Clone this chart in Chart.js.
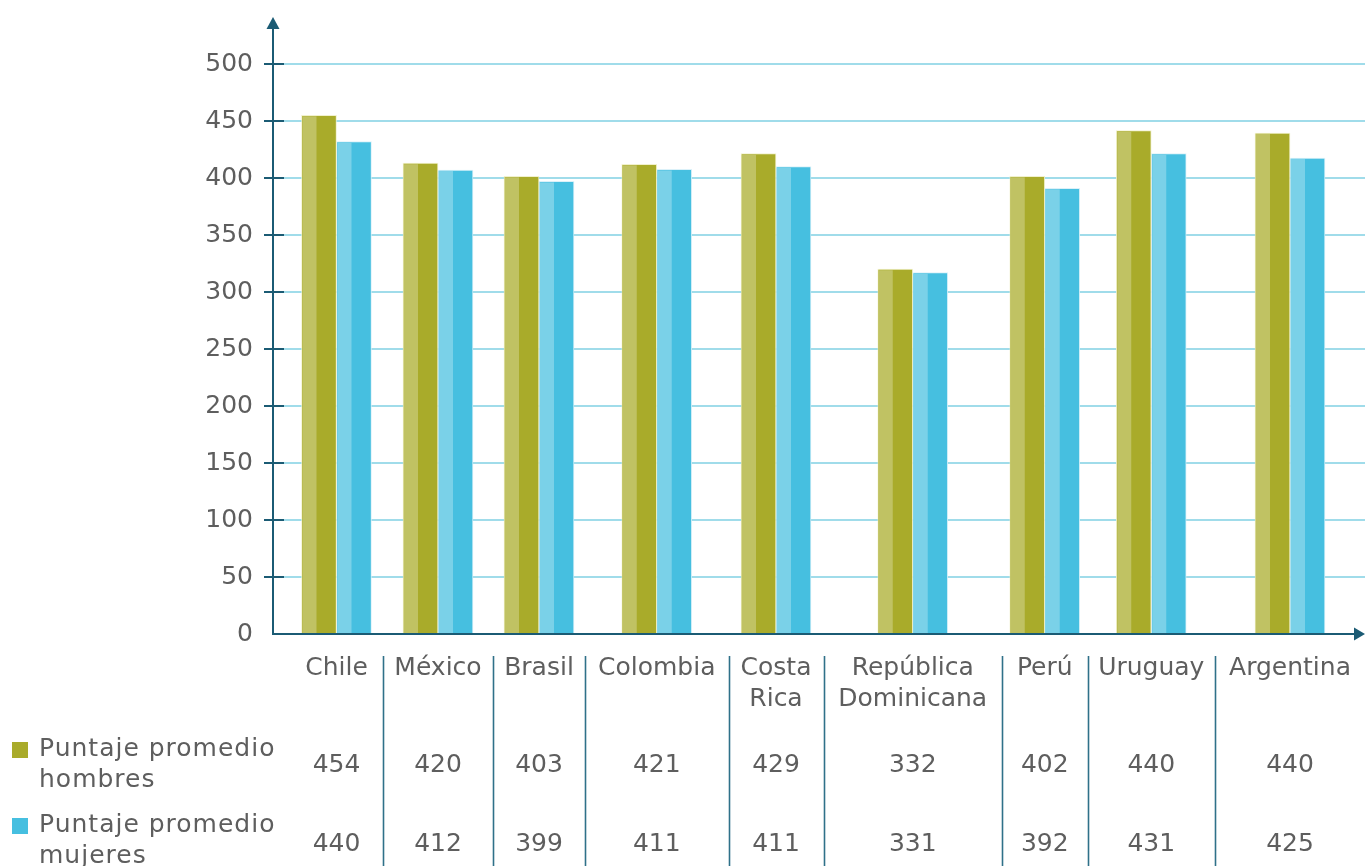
<!DOCTYPE html>
<html>
<head>
<meta charset="utf-8">
<script src="https://cdn.jsdelivr.net/npm/chart.js@4.4.1/dist/chart.umd.min.js"></script>
<style>
    body { margin: 0; background: #ffffff; }
    #wrap { width: 1365px; height: 866px; position: relative; }
</style>
</head>
<body>
<div id="wrap"><canvas id="puntajesChart"></canvas></div>
<script>
// Data
const paises = [['Chile'], ['México'], ['Brasil'], ['Colombia'], ['Costa', 'Rica'],
    ['República', 'Dominicana'], ['Perú'], ['Uruguay'], ['Argentina']];
const hombresBarras = [455, 413, 401.5, 412, 421.5, 320, 401.5, 441.5, 439.5];
const mujeresBarras = [432, 407, 397, 407.5, 410, 317, 391, 421.5, 417.5];
const hombresTabla = [454, 420, 403, 421, 429, 332, 402, 440, 440];
const mujeresTabla = [440, 412, 399, 411, 411, 331, 392, 431, 425];
const serieNombres = [['Puntaje promedio', 'hombres'], ['Puntaje promedio', 'mujeres']];
const yTicks = [0, 50, 100, 150, 200, 250, 300, 350, 400, 450, 500];

// Layout: table column edges in x-axis units (axis starts at 0)
const columnEdges = [17, 110, 220, 312, 455.5, 550.5, 729, 814.5, 942, 1092];
const columnCenters = paises.map((p, i) => (columnEdges[i] + columnEdges[i + 1]) / 2);

// Colours
const AXIS = '#1b5b74';
const SEP = '#2f7189';
const GRID = '#a0dcea';
const TEXT = '#5e5e5e';
const colors = {
    hombres: { dark: '#a9ab2a', light: '#c0c263' },
    mujeres: { dark: '#46bfe0', light: '#7ad1e8' }
};
const FONT = '25px "DejaVu Sans"';

Chart.defaults.font.family = '"DejaVu Sans"';
Chart.defaults.color = TEXT;

// Left lighter strip of each bar
const twoTonePlugin = {
    id: 'twoTone',
    afterDatasetsDraw(chart) {
        const ctx = chart.ctx;
        chart.data.datasets.forEach((ds, di) => {
            const meta = chart.getDatasetMeta(di);
            ctx.save();
            ctx.fillStyle = ds.lightColor;
            meta.data.forEach(bar => {
                const left = bar.x - bar.width / 2 + 1;
                ctx.fillRect(left, bar.y + 1, bar.width * 0.4, bar.base - bar.y - 1);
            });
            ctx.restore();
        });
    }
};

// Axes with arrows, tick marks and the data table underneath
const tablePlugin = {
    id: 'tabla',
    afterDraw(chart) {
        const ctx = chart.ctx;
        const x = chart.scales.x;
        const y = chart.scales.y;
        const left = chart.chartArea.left;
        const right = chart.chartArea.right;
        const y0 = y.getPixelForValue(0);

        ctx.save();
        ctx.strokeStyle = AXIS;
        ctx.fillStyle = AXIS;
        ctx.lineWidth = 2;

        // tick marks
        yTicks.forEach(t => {
            if (t === 0) return;
            const py = Math.round(y.getPixelForValue(t));
            ctx.beginPath();
            ctx.moveTo(left - 9, py);
            ctx.lineTo(left + 11, py);
            ctx.stroke();
        });

        // y axis + arrow
        ctx.beginPath();
        ctx.moveTo(left, y0 + 1);
        ctx.lineTo(left, 28);
        ctx.stroke();
        ctx.beginPath();
        ctx.moveTo(left, 17);
        ctx.lineTo(left - 6.5, 29);
        ctx.lineTo(left + 6.5, 29);
        ctx.closePath();
        ctx.fill();

        // x axis + arrow
        ctx.beginPath();
        ctx.moveTo(left, y0);
        ctx.lineTo(right - 8, y0);
        ctx.stroke();
        ctx.beginPath();
        ctx.moveTo(right, y0);
        ctx.lineTo(right - 11, y0 - 6.5);
        ctx.lineTo(right - 11, y0 + 6.5);
        ctx.closePath();
        ctx.fill();

        // column separators
        ctx.strokeStyle = SEP;
        ctx.lineWidth = 1.6;
        columnEdges.slice(1, -1).forEach(e => {
            const px = Math.round(x.getPixelForValue(e)) + 0.5;
            ctx.beginPath();
            ctx.moveTo(px, y0 + 22);
            ctx.lineTo(px, chart.height);
            ctx.stroke();
        });

        // country names
        ctx.font = FONT;
        ctx.fillStyle = TEXT;
        ctx.textAlign = 'center';
        ctx.textBaseline = 'alphabetic';
        paises.forEach((lines, i) => {
            const px = x.getPixelForValue(columnCenters[i]);
            lines.forEach((l, li) => ctx.fillText(l, px, y0 + 41 + li * 31));
        });

        // values
        const rows = [hombresTabla, mujeresTabla];
        const rowBase = [y0 + 138, y0 + 217];
        rows.forEach((vals, r) => {
            vals.forEach((v, i) => {
                ctx.fillText(String(v), x.getPixelForValue(columnCenters[i]), rowBase[r]);
            });
        });

        // legend cells
        const swatch = [colors.hombres.dark, colors.mujeres.dark];
        const legendBase = [y0 + 122, y0 + 198];
        ctx.textAlign = 'left';
        ctx.letterSpacing = '1px';
        serieNombres.forEach((lines, r) => {
            ctx.fillStyle = swatch[r];
            ctx.fillRect(12, legendBase[r] - 14, 16, 16);
            ctx.fillStyle = TEXT;
            lines.forEach((l, li) => ctx.fillText(l, 39, legendBase[r] + li * 31));
        });
        ctx.restore();
    }
};

const canvas = document.getElementById('puntajesChart');

new Chart(canvas, {
    type: 'bar',
    data: {
        datasets: [{
            label: 'Puntaje promedio hombres',
            data: hombresBarras.map((v, i) => ({ x: columnCenters[i], y: v })),
            backgroundColor: colors.hombres.dark,
            lightColor: colors.hombres.light,
            borderColor: 'rgba(240, 240, 200, 0.9)',
            borderWidth: 1,
            barThickness: 35
        }, {
            label: 'Puntaje promedio mujeres',
            data: mujeresBarras.map((v, i) => ({ x: columnCenters[i], y: v })),
            backgroundColor: colors.mujeres.dark,
            lightColor: colors.mujeres.light,
            borderColor: 'rgba(215, 240, 248, 0.9)',
            borderWidth: 1,
            barThickness: 35
        }]
    },
    options: {
        responsive: true,
        maintainAspectRatio: false,
        animation: false,
        layout: {
            padding: { top: 64, bottom: 232, left: 0, right: 0 }
        },
        plugins: {
            legend: { display: false },
            tooltip: { enabled: false }
        },
        scales: {
            x: {
                type: 'linear',
                min: 0,
                max: 1092,
                offset: false,
                display: false
            },
            y: {
                min: 0,
                max: 500,
                afterFit(scale) { scale.width = 273; },
                afterBuildTicks(scale) { scale.ticks = yTicks.map(v => ({ value: v })); },
                ticks: {
                    padding: 20,
                    color: TEXT,
                    font: { size: 25 }
                },
                grid: {
                    drawTicks: false,
                    lineWidth: 2,
                    color: c => c.tick && c.tick.value === 0 ? 'rgba(0,0,0,0)' : GRID
                },
                border: { display: false }
            }
        }
    },
    plugins: [twoTonePlugin, tablePlugin]
});
</script>
</body>
</html>
